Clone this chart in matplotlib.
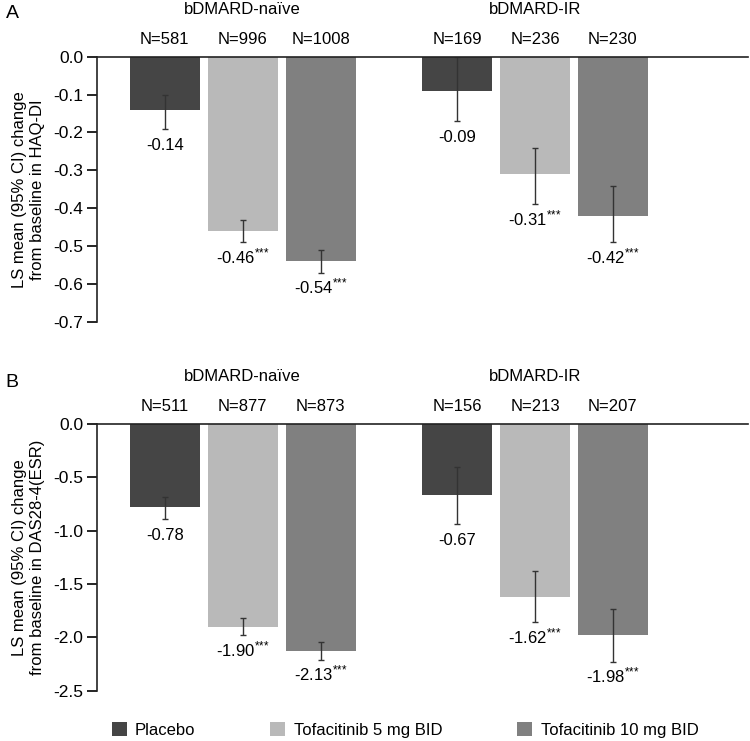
import numpy as np
import matplotlib.pyplot as plt
from matplotlib.patches import Patch

plt.rcParams['font.family'] = ['Liberation Sans', 'DejaVu Sans']
plt.rcParams['axes.unicode_minus'] = False
plt.rcParams['mathtext.fontset'] = 'custom'
plt.rcParams['mathtext.rm'] = 'Liberation Sans'
plt.rcParams['mathtext.default'] = 'regular'

treatments = ['Placebo', 'Tofacitinib 5 mg BID', 'Tofacitinib 10 mg BID']
colors = ['#454545', '#b9b9b9', '#808080']
groups = ['bDMARD-naïve', 'bDMARD-IR']

# panel A: HAQ-DI
haq_n = [581, 996, 1008, 169, 236, 230]
haq_mean = [-0.14, -0.46, -0.54, -0.09, -0.31, -0.42]
haq_lo = [-0.19, -0.49, -0.57, -0.17, -0.39, -0.49]
haq_hi = [-0.10, -0.43, -0.51, 0.00, -0.24, -0.34]
haq_sig = [0, 3, 3, 0, 3, 3]

# panel B: DAS28-4(ESR)
das_n = [511, 877, 873, 156, 213, 207]
das_mean = [-0.78, -1.90, -2.13, -0.67, -1.62, -1.98]
das_lo = [-0.89, -1.98, -2.21, -0.94, -1.86, -2.23]
das_hi = [-0.68, -1.82, -2.04, -0.40, -1.38, -1.73]
das_sig = [0, 3, 3, 0, 3, 3]

x = np.array([0, 1, 2, 3.75, 4.75, 5.75])
bar_colors = colors * 2

fig = plt.figure(figsize=(7.5, 7.41), dpi=100)
axA = fig.add_axes([0.1293, 0.5655, 0.8677, 0.358])
axB = fig.add_axes([0.1293, 0.0679, 0.8677, 0.3599])


def draw_panel(ax, n, mean, lo, hi, sig, ymin, step, ylabel):
    mean = np.array(mean)
    lo = np.array(lo)
    hi = np.array(hi)
    ax.bar(x, mean, width=0.9, color=bar_colors)
    ax.errorbar(x, mean, yerr=[mean - lo, hi - mean], fmt='none',
                ecolor='#333333', elinewidth=1, capsize=2.5, capthick=1)
    ax.set_xlim(-0.87, 7.48)
    ax.set_ylim(ymin, 0)
    ticks = np.arange(0, ymin - step / 2, -step)
    ax.set_yticks(ticks)
    ax.set_yticklabels([f'{t:.1f}' if abs(t) > 1e-9 else '0.0' for t in ticks])
    ax.set_xticks([])
    ax.spines['right'].set_visible(False)
    ax.spines['bottom'].set_visible(False)
    for s in ['top', 'left']:
        ax.spines[s].set_linewidth(1.2)
        ax.spines[s].set_color('#222222')
    ax.tick_params(axis='y', length=7, width=1.2, labelsize=12.5, pad=3)
    ax.set_ylabel(ylabel, fontsize=12, labelpad=6)
    for xi, ni in zip(x, n):
        ax.annotate(f'N={ni}', (xi, 0), xytext=(0, 12.7), textcoords='offset points',
                    ha='center', va='center', fontsize=12, annotation_clip=False)
    for gi, g in enumerate(groups):
        ax.annotate(g, (x[gi * 3 + 1], 0), xytext=(0, 34), textcoords='offset points',
                    ha='center', va='center', fontsize=12, annotation_clip=False)
    for xi, m, l, s in zip(x, mean, lo, sig):
        label = f'{m:.2f}'
        if s:
            label += '$^{' + '{*}' * s + '}$'
        ax.annotate(label, (xi, min(m, l)), xytext=(0, -15), textcoords='offset points',
                    ha='center', va='baseline', fontsize=12, annotation_clip=False)


draw_panel(axA, haq_n, haq_mean, haq_lo, haq_hi, haq_sig, -0.7, 0.1,
           'LS mean (95% CI) change\nfrom baseline in HAQ-DI')
draw_panel(axB, das_n, das_mean, das_lo, das_hi, das_sig, -2.5, 0.5,
           'LS mean (95% CI) change\nfrom baseline in DAS28-4(ESR)')

fig.text(0.017, 0.982, 'A', fontsize=14, ha='center', va='center')
fig.text(0.016, 0.484, 'B', fontsize=14, ha='center', va='center')

handles = [Patch(facecolor=c, edgecolor='none') for c in colors]
fig.legend(handles, treatments, loc='center', bbox_to_anchor=(0.54, 0.015),
           ncol=3, frameon=False, fontsize=12, handlelength=0.9, handleheight=0.9,
           handletextpad=0.5, columnspacing=4.5)

fig.savefig('out.png', dpi=100)
